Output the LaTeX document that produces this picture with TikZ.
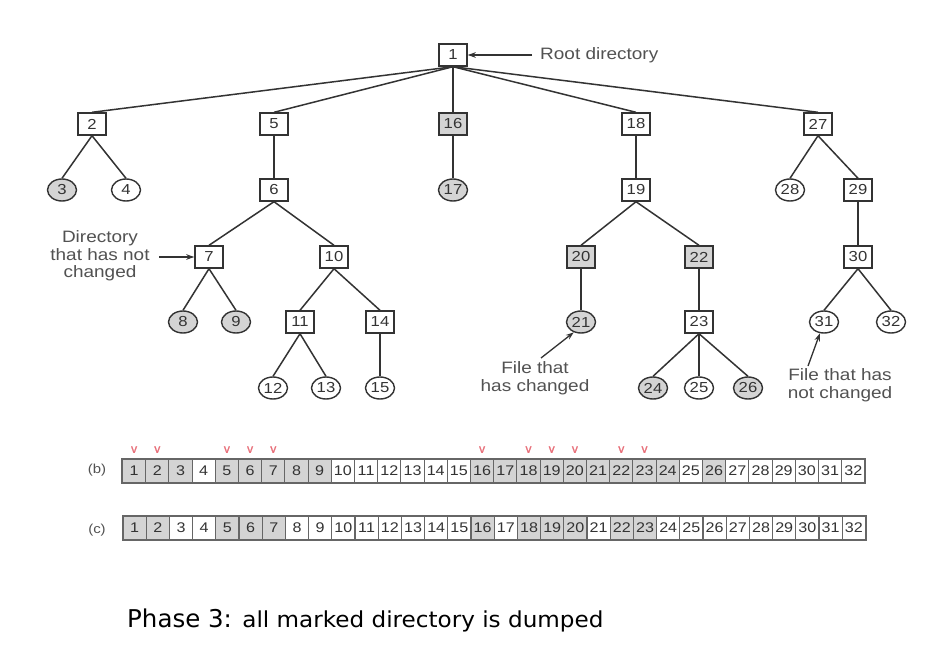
\documentclass[tikz,border=0pt]{standalone}
\usepackage{fontspec}
\usetikzlibrary{shapes.geometric,arrows.meta}
\newfontfamily\figfont[FakeStretch=1.15]{Liberation Sans}
\newfontfamily\tickfont[FakeBold=1.5]{Liberation Sans}
\newfontfamily\capfont{DejaVu Sans}
\newfontfamily\capwide[FakeStretch=1.05]{DejaVu Sans}
\definecolor{marked}{HTML}{D4D4D4}
\definecolor{inkline}{HTML}{333333}
\definecolor{tick}{HTML}{E8707A}
\begin{document}
\begin{tikzpicture}[x=1pt,y=-1pt,
  every node/.style={inner sep=0pt, text=inkline},
  dirbox/.style={draw=inkline, line width=1.4pt, rectangle, fill=white,
    minimum width=28pt, minimum height=22pt, font=\figfont\fontsize{14.5}{16}\selectfont},
  filenode/.style={draw=inkline, line width=1.4pt, ellipse, fill=white,
    minimum width=29pt, minimum height=22pt, font=\figfont\fontsize{14.5}{16}\selectfont},
  hit/.style={fill=marked},
  edge/.style={draw=inkline, line width=1.5pt},
  pointer/.style={draw=inkline, line width=1.3pt, -{Stealth[length=8pt,width=5.5pt]}},
  note/.style={font=\figfont\fontsize{16.5}{17.5}\selectfont, align=center, text=inkline!85},
  cell/.style={draw=inkline!75, line width=1.1pt, minimum width=23.2pt, minimum height=23pt,
    font=\figfont\fontsize{14}{15}\selectfont, fill=white},
  rowlab/.style={font=\figfont\fontsize{13}{14}\selectfont, text=inkline!85},
  vmark/.style={font=\tickfont\fontsize{12}{12}\selectfont, text=tick}
]
\useasboundingbox (0,0) rectangle (952,656);
\fill[white] (0,0) rectangle (952,656);

% ---------- directory tree ----------
\node[dirbox] (n1) at (453,55) {1};

\node[dirbox] (n2) at (92,124) {2};
\node[dirbox] (n5) at (274,124) {5};
\node[dirbox,hit] (n16) at (453,124) {16};
\node[dirbox] (n18) at (636,124) {18};
\node[dirbox] (n27) at (818,124) {27};

\node[filenode,hit] (n3) at (62,190) {3};
\node[filenode] (n4) at (126,190) {4};
\node[dirbox] (n6) at (274,190) {6};
\node[filenode,hit] (n17) at (453,190) {17};
\node[dirbox] (n19) at (636,190) {19};
\node[filenode] (n28) at (790,190) {28};
\node[dirbox] (n29) at (858,190) {29};

\node[dirbox] (n7) at (209,257) {7};
\node[dirbox] (n10) at (334,257) {10};
\node[dirbox,hit] (n20) at (581,257) {20};
\node[dirbox,hit] (n22) at (699,257) {22};
\node[dirbox] (n30) at (858,257) {30};

\node[filenode,hit] (n8) at (183,322) {8};
\node[filenode,hit] (n9) at (236,322) {9};
\node[dirbox] (n11) at (300,322) {11};
\node[dirbox] (n14) at (380,322) {14};
\node[filenode,hit] (n21) at (581,322) {21};
\node[dirbox] (n23) at (699,322) {23};
\node[filenode] (n31) at (824,322) {31};
\node[filenode] (n32) at (891,322) {32};

\node[filenode] (n12) at (273,388) {12};
\node[filenode] (n13) at (326,388) {13};
\node[filenode] (n15) at (380,388) {15};
\node[filenode,hit] (n24) at (653,388) {24};
\node[filenode] (n25) at (699,388) {25};
\node[filenode,hit] (n26) at (748,388) {26};

% parent-to-child links
\foreach \p/\c in {1/2,1/5,1/16,1/18,1/27,
                   2/3,2/4,5/6,16/17,18/19,27/28,27/29,
                   6/7,6/10,19/20,19/22,29/30,
                   7/8,7/9,10/11,10/14,20/21,22/23,30/31,30/32,
                   11/12,11/13,14/15,23/24,23/25,23/26}
  \draw[edge] (n\p.south) -- (n\c.north);

% ---------- annotations ----------
\node[note, anchor=west] (rootlab) at (540,55) {Root directory};
\coordinate (rootfrom) at (532,55);
\draw[pointer] (rootfrom) -- (n1.east);

\node[note] (dirlab) at (100,256) {Directory\\that has not\\changed};
\coordinate (dirfrom) at (159,257);
\draw[pointer] (dirfrom) -- (n7.west);

\node[note] (chlab) at (535,378) {File that\\has changed};
\coordinate (chfrom) at (541,358);
\draw[pointer] (chfrom) -- (n21.235);

\node[note] (unlab) at (840,385) {File that has\\not changed};
\coordinate (unfrom) at (808,366);
\draw[pointer] (unfrom) -- (n31.250);

% ---------- bitmaps ----------
\node[rowlab] (labb) at (97,470) {(b)};
\node[rowlab] (labc) at (97,530) {(c)};

% row (b): shaded entries
\foreach \i in {1,...,32} {
  \gdef\shade{white}
  \foreach \s in {1,2,3,5,6,7,8,9,16,17,18,19,20,21,22,23,24,26}
    {\ifnum\i=\s\xdef\shade{marked}\fi}
  \node[cell, fill=\shade] (b\i) at ({122.5+23.2*(\i-0.5)},471) {\i};
}
% row (c): shaded entries
\foreach \i in {1,...,32} {
  \gdef\shade{white}
  \foreach \s in {1,2,5,6,7,16,18,19,20,22,23}
    {\ifnum\i=\s\xdef\shade{marked}\fi}
  \node[cell, fill=\shade] (c\i) at ({123+23.2*(\i-0.5)},528) {\i};
}
\draw[inkline!75, line width=1.5pt] (b1.north west) rectangle (b32.south east);
\draw[inkline!75, line width=1.5pt] (c1.north west) rectangle (c32.south east);

% check marks above row (b)
\foreach \i in {1,2,5,6,7,16,18,19,20,22,23}
  \node[vmark, anchor=south] (v\i) at ([yshift=6pt]b\i.north) {v};

% ---------- caption ----------
\node[anchor=base west, text=black] (cap) at (127,627)
  {\capfont\fontsize{24.5}{28}\selectfont Phase 3: \capwide\fontsize{22}{26}\selectfont all marked directory is dumped};
\end{tikzpicture}
\end{document}
